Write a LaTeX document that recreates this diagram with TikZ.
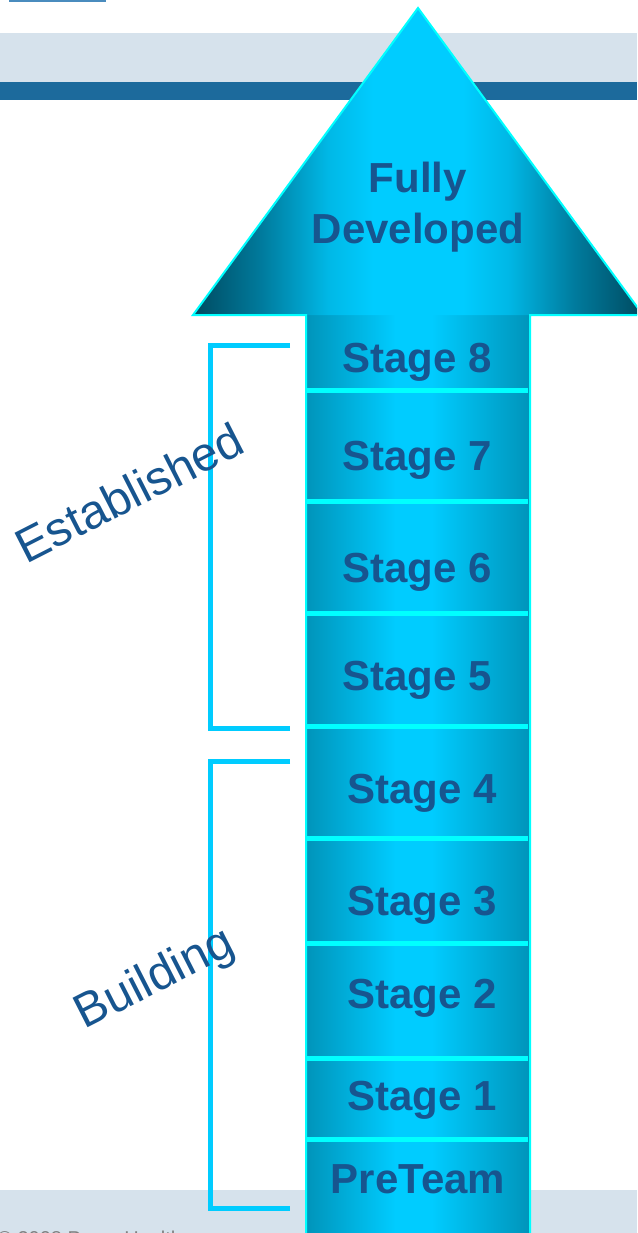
\documentclass[tikz,border=0pt]{standalone}
\usepackage{fontspec}
\setmainfont{Liberation Sans}
\definecolor{txtblue}{HTML}{17558F}
\definecolor{bandlight}{HTML}{D6E2EC}
\definecolor{banddark}{HTML}{1C6A9C}
\definecolor{brk}{HTML}{00CCFF}
\definecolor{outl}{HTML}{00FFFF}
\definecolor{cbright}{HTML}{00CCFF}
\definecolor{hdark}{HTML}{004A60}
\definecolor{hmid}{HTML}{007A9C}
\definecolor{hlight}{HTML}{00B8E6}
\definecolor{sedge}{HTML}{0094BA}
\definecolor{topline}{HTML}{4A8CBE}
\definecolor{footgray}{HTML}{808080}
\pgfdeclarehorizontalshading{headshade}{100bp}{color(0bp)=(hdark); color(25bp)=(hdark); color(32.5bp)=(hmid); color(40bp)=(hlight); color(45bp)=(cbright); color(55bp)=(cbright); color(60bp)=(hlight); color(67.5bp)=(hmid); color(75bp)=(hdark); color(100bp)=(hdark)}
\pgfdeclarehorizontalshading{shaftshade}{100bp}{color(0bp)=(sedge); color(25bp)=(sedge); color(45bp)=(cbright); color(53bp)=(cbright); color(75bp)=(sedge); color(100bp)=(sedge)}
\tikzset{
  stagetext/.style={font=\fontsize{31.5}{38}\selectfont\bfseries, text=txtblue, anchor=base, inner sep=0pt},
  phase/.style={font=\fontsize{36}{40}\selectfont, text=txtblue, anchor=base, rotate=27, inner sep=0pt},
  bracket/.style={draw=brk, line width=3.75pt, line cap=butt, line join=miter},
  divider/.style={draw=outl, line width=3.75pt},
  outline/.style={draw=outl, line width=1.5pt, line join=miter},
  footer/.style={font=\fontsize{15}{18}\selectfont, text=footgray, anchor=base west, inner sep=0pt}
}
\begin{document}
\begin{tikzpicture}[x=0.75pt, y=-0.75pt]
\useasboundingbox (0,0) rectangle (637,1233);
\clip (0,0) rectangle (637,1233);
% background bands
\fill[bandlight] (0,33) rectangle (637,82);
\fill[banddark] (0,82) rectangle (637,100);
\draw[topline, line width=1.5pt] (9,0.5) -- (106,0.5);
\fill[bandlight] (0,1190) rectangle (637,1233);
\node[footer] (copy) at (-3,1245) {© 2008 Press Health};
% brackets
\draw[bracket] (290,345) -- (210,345) -- (210,728) -- (290,728);
\draw[bracket] (290,761) -- (210,761) -- (210,1208) -- (290,1208);
% arrow
\shade[shading=shaftshade] (306,313) rectangle (530,1240);
\shade[shading=headshade] (418,8) -- (643,315) -- (193,315) -- cycle;
\draw[outline] (306,1240) -- (306,315) -- (193,315) -- (418,8) -- (643,315) -- (530,315) -- (530,1240);
% dividers
\foreach \yy in {390,501,613,726,838,943,1058,1139}
  \draw[divider] (306,\yy) -- (528,\yy);
% texts
\node[stagetext] (fully) at (418,192) {Fully};
\node[stagetext] (developed) at (418,243) {Developed};
\node[stagetext] (s8) at (417,372) {Stage 8};
\node[stagetext] (s7) at (417,470) {Stage 7};
\node[stagetext] (s6) at (417,582) {Stage 6};
\node[stagetext] (s5) at (417,690) {Stage 5};
\node[stagetext] (s4) at (422,803) {Stage 4};
\node[stagetext] (s3) at (422,915) {Stage 3};
\node[stagetext] (s2) at (422,1008) {Stage 2};
\node[stagetext] (s1) at (422,1110) {Stage 1};
\node[stagetext] (pre) at (418,1193) {PreTeam};
\node[phase] (established) at (137,508) {Established};
\node[phase] (building) at (161,991) {Building};
\end{tikzpicture}
\end{document}
